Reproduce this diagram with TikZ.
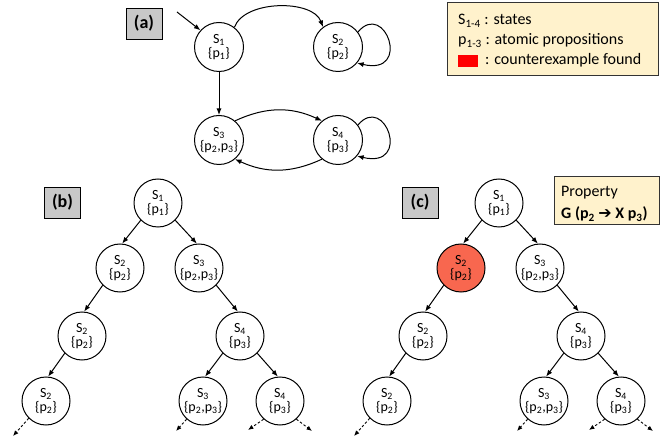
\documentclass[tikz,border=0pt]{standalone}
\usepackage{fontspec}
\setmainfont{Carlito}
\newfontfamily\arrowfont{DejaVu Sans}
\usetikzlibrary{arrows.meta}
\definecolor{legendfill}{RGB}{255,242,204}
\definecolor{labelfill}{RGB}{200,200,200}
\definecolor{hitfill}{RGB}{248,103,79}
\begin{document}
\begin{tikzpicture}[x=1pt,y=1pt,
  kstate/.style={circle,draw,line width=1pt,minimum size=48pt,inner sep=0pt,
    align=center,font=\fontsize{14}{14.5}\selectfont},
  trans/.style={line width=1pt,-{Latex[length=6.5pt,width=5pt]}},
  cont/.style={line width=0.9pt,dash pattern=on 2.5pt off 2pt,-{Latex[length=5.5pt,width=4.5pt]}},
  paneltag/.style={draw,line width=0.9pt,fill=labelfill,minimum width=36pt,minimum height=31pt,
    inner sep=0pt,font=\fontsize{18}{20}\selectfont\bfseries},
  infobox/.style={draw=black!80,line width=0.9pt,fill=legendfill,inner sep=0pt},
  txt/.style={inner sep=0pt,anchor=base west,font=\fontsize{16}{19}\selectfont}
]
\useasboundingbox (0,0) rectangle (660,439);

% ---------- (a) Kripke structure ----------
\node[paneltag] (la) at (144,415.5) {(a)};
\node[kstate,minimum size=49pt] (a1) at (219,392) {S\textsubscript{1}\\\{p\textsubscript{1}\}};
\node[kstate,minimum size=49pt] (a2) at (338,392) {S\textsubscript{2}\\\{p\textsubscript{2}\}};
\node[kstate,minimum size=49pt] (a3) at (219,299) {S\textsubscript{3}\\\{p\textsubscript{2},p\textsubscript{3}\}};
\node[kstate,minimum size=49pt] (a4) at (338,299) {S\textsubscript{4}\\\{p\textsubscript{3}\}};
\coordinate (init) at (177,427);
\draw[trans] (init) -- (a1.138);
\draw[trans] (a1.52) to[out=70,in=110,looseness=0.85] (a2.127);
\draw[trans] (a2.37) .. controls +(27,32) and +(55,-13) .. (a2.-40);
\draw[trans] (a1) -- (a3);
\draw[trans] (a3.50) to[out=25,in=155] (a4.130);
\draw[trans] (a4.-130) to[out=-155,in=-25] (a3.-50);
\draw[trans] (a4.37) .. controls +(27,32) and +(55,-13) .. (a4.-40);

% ---------- legend ----------
\node[infobox,anchor=north west,minimum width=211pt,minimum height=73pt] (legend) at (447,437) {};
\node[txt] (l1) at (458,414) {S\textsubscript{1-4} : states};
\node[txt] (l2) at (458,394) {p\textsubscript{1-3} : atomic propositions};
\node[fill=red,minimum width=20pt,minimum height=12pt,inner sep=0pt,anchor=south west] (redkey) at (458,372) {};
\node[txt] (l3) at (485,374) {: counterexample found};

% ---------- (b) computation tree ----------
\node[paneltag] (lb) at (62.5,236.5) {(b)};
\node[kstate] (b1) at (158,236) {S\textsubscript{1}\\\{p\textsubscript{1}\}};
\node[kstate] (b2) at (120,171) {S\textsubscript{2}\\\{p\textsubscript{2}\}};
\node[kstate] (b3) at (199,171) {S\textsubscript{3}\\\{p\textsubscript{2},p\textsubscript{3}\}};
\node[kstate] (b4) at (82,103) {S\textsubscript{2}\\\{p\textsubscript{2}\}};
\node[kstate] (b5) at (240,103) {S\textsubscript{4}\\\{p\textsubscript{3}\}};
\node[kstate] (b6) at (46,38) {S\textsubscript{2}\\\{p\textsubscript{2}\}};
\node[kstate] (b7) at (203,38) {S\textsubscript{3}\\\{p\textsubscript{2},p\textsubscript{3}\}};
\node[kstate] (b8) at (280,38) {S\textsubscript{4}\\\{p\textsubscript{3}\}};
\draw[trans] (b1.225) -- (b2.85);
\draw[trans] (b1.-45) -- (b3.95);
\draw[trans] (b2.225) -- (b4.85);
\draw[trans] (b3.-45) -- (b5.95);
\draw[trans] (b4.225) -- (b6.85);
\draw[trans] (b5.225) -- (b7.85);
\draw[trans] (b5.-45) -- (b8.95);
\coordinate (b6e) at (13,3);
\coordinate (b7e) at (176,8);
\coordinate (b8l) at (248,9);
\coordinate (b8r) at (312,8);
\draw[cont] (b6.225) -- (b6e);
\draw[cont] (b7.228) -- (b7e);
\draw[cont] (b8.228) -- (b8l);
\draw[cont] (b8.-48) -- (b8r);

% ---------- (c) tree with counterexample ----------
\node[paneltag] (lc) at (420,236.5) {(c)};
\node[kstate] (c1) at (499,236) {S\textsubscript{1}\\\{p\textsubscript{1}\}};
\node[kstate,fill=hitfill] (c2) at (461,171) {S\textsubscript{2}\\\{p\textsubscript{2}\}};
\node[kstate] (c3) at (540,171) {S\textsubscript{3}\\\{p\textsubscript{2},p\textsubscript{3}\}};
\node[kstate] (c4) at (423,103) {S\textsubscript{2}\\\{p\textsubscript{2}\}};
\node[kstate] (c5) at (581,103) {S\textsubscript{4}\\\{p\textsubscript{3}\}};
\node[kstate] (c6) at (387,38) {S\textsubscript{2}\\\{p\textsubscript{2}\}};
\node[kstate] (c7) at (544,38) {S\textsubscript{3}\\\{p\textsubscript{2},p\textsubscript{3}\}};
\node[kstate] (c8) at (621,38) {S\textsubscript{4}\\\{p\textsubscript{3}\}};
\draw[trans] (c1.225) -- (c2.85);
\draw[trans] (c1.-45) -- (c3.95);
\draw[trans] (c2.225) -- (c4.85);
\draw[trans] (c3.-45) -- (c5.95);
\draw[trans] (c4.225) -- (c6.85);
\draw[trans] (c5.225) -- (c7.85);
\draw[trans] (c5.-45) -- (c8.95);
\coordinate (c6e) at (354,3);
\coordinate (c7e) at (517,8);
\coordinate (c8l) at (589,9);
\coordinate (c8r) at (653,8);
\draw[cont] (c6.225) -- (c6e);
\draw[cont] (c7.228) -- (c7e);
\draw[cont] (c8.228) -- (c8l);
\draw[cont] (c8.-48) -- (c8r);

% ---------- property box ----------
\node[infobox,anchor=north west,minimum width=105pt,minimum height=48pt] (prop) at (554,263) {};
\node[txt] (p1) at (561,242) {Property};
\node[txt,font=\fontsize{16}{19}\selectfont\bfseries] (p2) at (561,220)
  {G (p\textsubscript{2} {\arrowfont\bfseries ➔} X p\textsubscript{3})};
\end{tikzpicture}
\end{document}
